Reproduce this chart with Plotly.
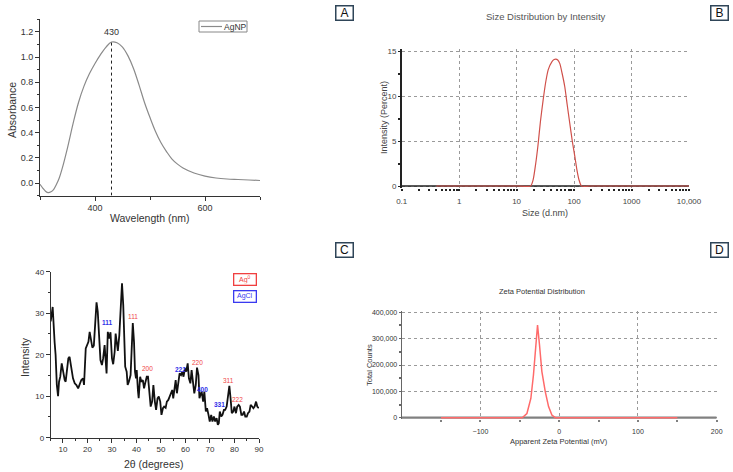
import plotly.graph_objects as go

W, H = 733, 472
def px(x):
    return x / W
def py(y):
    return 1 - y / H

FONT = "Liberation Sans, Arial, sans-serif"

# ---------------- Panel A: UV-Vis ----------------
uv_wavelength = [300, 305, 310, 315, 320, 325, 330, 335, 340, 350, 360, 370, 380, 390, 400,
                 410, 420, 430, 440, 450, 460, 470, 480, 490, 500, 510, 520, 530, 540, 550,
                 560, 580, 600, 620, 640, 660, 680, 700]
uv_absorbance = [-0.01, -0.04, -0.065, -0.077, -0.07, -0.05, -0.01, 0.04, 0.11, 0.28, 0.47, 0.64,
                 0.77, 0.87, 0.95, 1.02, 1.08, 1.12, 1.115, 1.08, 1.01, 0.91, 0.78, 0.64, 0.52,
                 0.41, 0.32, 0.25, 0.19, 0.15, 0.12, 0.08, 0.055, 0.04, 0.032, 0.028, 0.024, 0.02]
uv_ticks = [0.0, 0.2, 0.4, 0.6, 0.8, 1.0, 1.2]
uv_series_name = "AgNP"

# ---------------- Panel B: DLS size ----------------
dls_size_nm = [0.4, 1, 10, 17.5, 19.4, 21.5, 23.7, 26, 29, 32, 35.4, 41, 45, 48, 52, 56.5, 62,
               69, 76, 84, 93, 103, 112, 122, 135, 200, 1000, 10000]
dls_intensity = [0, 0, 0, 0, 0.7, 2.5, 4.7, 7.2, 9.6, 11.5, 12.9, 13.8, 14.05, 14.1, 14.0, 13.6,
                 12.5, 11.0, 9.0, 7.0, 5.0, 3.3, 1.8, 0.67, 0, 0, 0, 0]
dls_ticks = [0.1, 1, 10, 100, 1000, 10000]
dls_ticktext = ["0.1", "1", "10", "100", "1000", "10,000"]

# ---------------- Panel C: XRD ----------------
xrd_2theta = [5, 5.5, 5.8, 6.6, 7, 7.5, 8, 8.4, 8.9, 9.5, 10, 10.7, 11.1, 11.6, 12.2, 12.7, 13.4,
              14.1, 14.8, 15.5, 16.2, 16.8, 17.5, 18.2, 18.6, 19.3, 19.8, 20.4, 20.9, 21.5, 22,
              22.6, 23.1, 23.7, 24.2, 24.8, 25.3, 25.9, 26.4, 27, 27.5, 27.8, 28.3, 28.9, 29.4,
              30, 30.5, 31.1, 31.5, 31.9, 32.4, 33, 33.5, 34.1, 34.6, 35, 35.4, 36, 36.4, 36.9,
              37.6, 38, 38.5, 39, 39.4, 39.8, 40.1, 40.6, 40.9, 41.5, 42, 42.6, 43.1, 43.7, 44.2,
              44.7, 45.3, 45.8, 46.4, 46.9, 47.5, 48, 48.6, 49.1, 49.7, 50.2, 50.8, 51.3, 51.9,
              52.4, 53, 53.5, 54, 54.6, 55, 55.4, 56, 56.5, 57.1, 57.6, 58.2, 58.7, 59.2, 59.8,
              60.3, 60.9, 61.4, 62, 62.5, 63.1, 63.6, 64.2, 64.7, 65.3, 65.7, 66.1, 66.6, 67.2,
              67.7, 68.3, 68.8, 69.4, 69.9, 70.5, 71, 71.6, 72.1, 72.7, 73.2, 73.6, 74, 74.6,
              75.1, 75.7, 76.2, 76.8, 77.3, 77.9, 78.4, 78.9, 79.5, 80, 80.6, 81.1, 81.7, 82.2,
              82.8, 83.3, 83.9, 84.4, 85, 85.5, 86.1, 86.6, 87.2, 87.7, 88.2, 88.8, 89.3, 89.9]
xrd_intensity = [28, 31.2, 31.5, 23, 20, 12.7, 10, 13.5, 14.7, 17.9, 16, 13.9, 13.5, 15.5, 19.1,
                 19.5, 16.7, 14.3, 13.1, 12.7, 11.9, 13.1, 13.9, 14.3, 12.7, 21.5, 22.3, 23.1,
                 25.5, 22.7, 21.7, 22.2, 27, 32.6, 30.4, 23.9, 18.7, 17.5, 19.1, 22.3, 18.3, 15.5,
                 25.5, 23.9, 25.4, 19.1, 17.7, 20.7, 25.1, 23.5, 20.9, 24.7, 32, 37.2, 32, 20.7,
                 17.1, 15.9, 12.7, 13.5, 15.1, 20.7, 27.6, 23.1, 15.9, 14.3, 16.3, 11.3, 9.5,
                 14.7, 13.5, 13.9, 11.9, 13.5, 14.7, 14.7, 11.1, 7.5, 8.7, 12.7, 8.7, 6.7, 9.5,
                 9.9, 8.7, 5.5, 7.1, 7.5, 7.2, 8.7, 9.1, 9.9, 10.7, 11.5, 9.5, 11.9, 13.9, 10.7,
                 13.5, 15.5, 15.1, 15.9, 14.7, 16.7, 15.9, 17.9, 14.3, 13.1, 16.3, 12.7, 10.7,
                 12.7, 16.9, 15.1, 9.5, 10.3, 11.1, 8.7, 11.1, 6.3, 7.1, 5.5, 3.9, 5.5, 3.9, 5.1,
                 3.9, 4.7, 3.1, 3.5, 6.3, 5.1, 5.5, 6.7, 6.7, 7.5, 10.3, 12.5, 9.5, 5.9, 6.3, 7.5,
                 5.9, 7.5, 7.9, 7.5, 5.5, 5.5, 6.3, 5.1, 5.1, 5.9, 6.3, 7.9, 7.5, 7.1, 7.5, 8.7,
                 7.5, 7.1]
ag_labels = ["111", "200", "220", "311", "222"]
ag_label_x = [38.5, 44.5, 64.7, 77.7, 81.4]
ag_label_y = [29.2, 16.7, 18.2, 13.9, 9.1]
agcl_labels = ["111", "222", "400", "331"]
agcl_label_x = [28.1, 57.9, 66.8, 74.0]
agcl_label_y = [27.8, 16.5, 11.7, 8.0]

# ---------------- Panel D: Zeta potential ----------------
zeta_mv = [-150, -47, -41, -36, -32.7, -30, -27.5, -25, -22, -17.7, -13.5, -9.3, -5, 150]
zeta_counts = [0, 0, 16000, 73000, 162000, 263000, 352000, 276000, 175000, 99000, 42000,
               10000, 0, 0]
zeta_baseline_x = [-200, 200]
zeta_ticks = [0, 100000, 200000, 300000, 400000]

fig = go.Figure()

# A traces
fig.add_trace(go.Scatter(x=uv_wavelength, y=uv_absorbance, mode="lines", name=uv_series_name,
                         line=dict(color="#8a8a8a", width=1.2, shape="spline"),
                         showlegend=False, xaxis="x", yaxis="y"))
pk = uv_absorbance.index(max(uv_absorbance))
peak_x, peak_y = uv_wavelength[pk], uv_absorbance[pk]
fig.add_trace(go.Scatter(x=[peak_x, peak_x], y=[-0.1, peak_y], mode="lines", showlegend=False,
                         line=dict(color="#222", width=1, dash="dot"), xaxis="x", yaxis="y"))

# B traces
fig.add_trace(go.Scatter(x=[dls_ticks[0], dls_ticks[-1]], y=[0, 0], mode="lines", showlegend=False,
                         line=dict(color="#222", width=1.5), xaxis="x2", yaxis="y2"))
fig.add_trace(go.Scatter(x=dls_size_nm, y=dls_intensity, mode="lines", showlegend=False,
                         line=dict(color="#d0504a", width=1.2, shape="spline", smoothing=0.6),
                         xaxis="x2", yaxis="y2"))

# C traces
fig.add_trace(go.Scatter(x=xrd_2theta, y=xrd_intensity, mode="lines", showlegend=False,
                         line=dict(color="#111", width=1.8), xaxis="x3", yaxis="y3"))

# D traces
fig.add_trace(go.Scatter(x=zeta_baseline_x, y=[0, 0], mode="lines", showlegend=False,
                         line=dict(color="#808080", width=2.2), xaxis="x4", yaxis="y4"))
fig.add_trace(go.Scatter(x=zeta_mv, y=zeta_counts, mode="lines", showlegend=False,
                         line=dict(color="#ff6a6a", width=1.5), xaxis="x4", yaxis="y4"))

ann = []
def note(text, x, y, size, color="#333", angle=0, **kw):
    ann.append(dict(text=text, x=px(x), y=py(y), xref="paper", yref="paper", showarrow=False,
                    xanchor="center", yanchor="middle", textangle=angle,
                    font=dict(family=FONT, size=size, color=color), **kw))

# panel labels
for lab, (lx, ly) in zip(["A", "B", "C", "D"], [(344, 13), (719, 13), (344, 249.5), (719, 249.5)]):
    note(lab, lx, ly, 12, "#111", bordercolor="#2f4558", borderwidth=1.5, borderpad=1,
         width=14, height=11)

# A texts
note("Absorbance", 12, 110, 10.5, "#333", -90)
note("Wavelength (nm)", 150, 218, 10.5, "#333")
ann.append(dict(text=str(peak_x), x=peak_x, y=1.2, xref="x", yref="y", showarrow=False,
                yanchor="middle", font=dict(family=FONT, size=9, color="#333")))
note(uv_series_name, 235, 26.5, 8.5, "#333")

# B texts
note("Size Distribution by Intensity", 545.7, 16, 9.5, "#555")
note("Intensity (Percent)", 384, 118, 9, "#444", -90)
note("Size (d.nm)", 545, 213, 9, "#444")

# C texts
note("Intensity", 25, 357, 10.5, "#333", -90)
note("2θ (degrees)", 154, 464, 10.5, "#333")
note("Ag<sup>0</sup>", 244.5, 279.5, 7, "#f04040", bordercolor="#f04040", borderwidth=1.3,
     borderpad=1, width=19, height=8)
note("AgCl", 244.5, 296, 7, "#3a3af0", bordercolor="#3a3af0", borderwidth=1.3,
     borderpad=1, width=19, height=8)
for t, x, y in zip(ag_labels, ag_label_x, ag_label_y):
    ann.append(dict(text=t, x=x, y=y, xref="x3", yref="y3", showarrow=False,
                    font=dict(family=FONT, size=6.5, color="#f04848")))
for t, x, y in zip(agcl_labels, agcl_label_x, agcl_label_y):
    ann.append(dict(text="<b>" + t + "</b>", x=x, y=y, xref="x3", yref="y3", showarrow=False,
                    font=dict(family=FONT, size=6.5, color="#3030e8")))

# D texts
note("Zeta Potential Distribution", 541.7, 291.7, 7.5, "#333")
note("Apparent Zeta Potential (mV)", 559, 441, 7.5, "#333")
note("Total Counts", 369, 365, 7.5, "#333", -90)

# Legend box of panel A (drawn as decoration)
shapes = [
    dict(type="rect", xref="paper", yref="paper", x0=px(199), x1=px(247), y0=py(32), y1=py(21),
         line=dict(color="#888", width=1), fillcolor="white", layer="above"),
    dict(type="line", xref="paper", yref="paper", x0=px(201), x1=px(222), y0=py(26.5),
         y1=py(26.5), line=dict(color="#8a8a8a", width=1.2), layer="above"),
]

tf = dict(family=FONT, size=9, color="#333")
dls_minor = [m * d for d in [0.1, 1, 10, 100, 1000] for m in range(2, 10)]

# B / D: pad the y range a little so the zero line is not clipped
b_lo, b_hi = -0.2, 15.2
b_top, b_bot = 51, 186
b_ppu = (b_bot - b_top) / 15.0
d_lo, d_hi = -5000, 405000
d_top, d_bot = 312.3, 417.7
d_ppu = (d_bot - d_top) / 400000.0

fig.update_layout(
    template="none",
    width=W, height=H, margin=dict(l=0, r=0, t=0, b=0, autoexpand=False),
    paper_bgcolor="white", plot_bgcolor="white",
    font=dict(family=FONT),
    showlegend=False,
    annotations=ann,
    shapes=shapes,
    # A
    xaxis=dict(domain=[px(40), px(260)], range=[300, 700], anchor="y", showline=True,
               automargin=False,
               linecolor="#333", linewidth=1, ticks="outside", ticklen=4, tickcolor="#333",
               tickvals=[400, 600], showgrid=False, zeroline=False, tickfont=tf,
               minor=dict(tickvals=[300, 500, 700], ticks="outside", ticklen=3, tickcolor="#333")),
    yaxis=dict(domain=[py(195.6), py(19.4)], range=[-0.1, 1.3], anchor="x", showline=True,
               automargin=False,
               linecolor="#333", linewidth=1, ticks="outside", ticklen=4, tickcolor="#333",
               tickvals=uv_ticks, tickformat=".1f", showgrid=False, zeroline=False, tickfont=tf,
               minor=dict(tickvals=[-0.1, 0.1, 0.3, 0.5, 0.7, 0.9, 1.1, 1.3], ticks="outside",
                          ticklen=2, tickcolor="#333")),
    # B
    xaxis2=dict(domain=[px(401.7), px(689)], type="log", range=[-1, 4], anchor="y2",
                automargin=False,
                showline=False, tickvals=dls_ticks, ticktext=dls_ticktext, ticks="outside",
                ticklen=2, tickwidth=2, tickcolor="#222", showgrid=True, gridcolor="#9a9a9a",
                griddash="dot", gridwidth=1, zeroline=False, ticklabelstandoff=4,
                tickfont=dict(family=FONT, size=8, color="#444"),
                minor=dict(tickvals=dls_minor, ticks="outside", ticklen=2, tickwidth=2,
                           tickcolor="#222", showgrid=False)),
    yaxis2=dict(domain=[py(b_bot - b_lo * b_ppu), py(b_top - (b_hi - 15) * b_ppu)],
                range=[b_lo, b_hi], anchor="x2", showline=True, automargin=False,
                linecolor="#222", linewidth=1.5, tickvals=[0, 5, 10, 15], ticks="outside",
                ticklen=2, tickcolor="#222", showgrid=True, gridcolor="#9a9a9a", griddash="dot",
                zeroline=False, tickfont=dict(family=FONT, size=8, color="#444"),
                minor=dict(tickvals=[2.5, 7.5, 12.5], ticks="outside", ticklen=2, tickwidth=2,
                           tickcolor="#222")),
    # C
    xaxis3=dict(domain=[px(50.7), px(259)], range=[5, 90], anchor="y3", showline=True,
                automargin=False,
                linecolor="#333", linewidth=1, ticks="outside", ticklen=4, tickcolor="#333",
                tickvals=[10, 20, 30, 40, 50, 60, 70, 80, 90], showgrid=False, zeroline=False,
                tickfont=dict(family=FONT, size=8, color="#333"),
                minor=dict(tickvals=[5, 15, 25, 35, 45, 55, 65, 75, 85], ticks="outside",
                           ticklen=2, tickcolor="#333")),
    yaxis3=dict(domain=[py(437.7), py(271.7)], range=[0, 40], anchor="x3", showline=True,
                automargin=False,
                linecolor="#333", linewidth=1, ticks="outside", ticklen=4, tickcolor="#333",
                tickvals=[0, 10, 20, 30, 40], showgrid=False, zeroline=False,
                tickfont=dict(family=FONT, size=8, color="#333"),
                minor=dict(tickvals=[5, 15, 25, 35], ticks="outside", ticklen=2,
                           tickcolor="#333")),
    # D
    xaxis4=dict(domain=[px(401.7), px(716.7)], range=[-200, 200], anchor="y4", showline=False,
                automargin=False,
                tickvals=[-100, 0, 100, 200], ticks="outside", ticklen=2, tickwidth=2,
                tickcolor="#808080", showgrid=True, gridcolor="#9a9a9a", griddash="dot",
                zeroline=False, ticklabelstandoff=4,
                tickfont=dict(family=FONT, size=7, color="#333"),
                minor=dict(tickvals=[-150, -50, 50, 150], ticks="outside", ticklen=2,
                           tickwidth=2, tickcolor="#808080", showgrid=False)),
    yaxis4=dict(domain=[py(d_bot - d_lo * d_ppu), py(d_top - (d_hi - 400000) * d_ppu)],
                range=[d_lo, d_hi], anchor="x4", showline=True, automargin=False,
                linecolor="#666", linewidth=1.2, tickvals=zeta_ticks, tickformat=",",
                ticks="outside", ticklen=2, tickcolor="#666", showgrid=True, gridcolor="#9a9a9a",
                griddash="dot", zeroline=False,
                tickfont=dict(family=FONT, size=7, color="#333"),
                minor=dict(tickvals=[50000, 150000, 250000, 350000], ticks="outside",
                           ticklen=2, tickwidth=2, tickcolor="#666")),
)

fig.write_html("out.html", config={"displayModeBar": False},
               post_script="document.body.style.margin='0';document.body.style.overflow='hidden';")
